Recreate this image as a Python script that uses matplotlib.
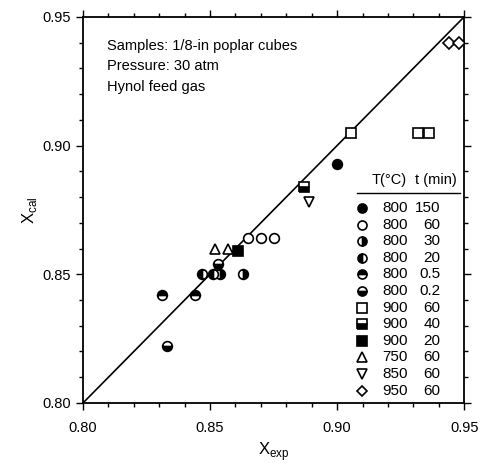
import matplotlib
matplotlib.use("Agg")
import matplotlib.pyplot as plt
from matplotlib.ticker import MultipleLocator, FormatStrFormatter

plt.rcParams['font.family'] = ['Liberation Sans', 'DejaVu Sans']

# series: (T, t, marker, fillstyle)
temps = ['800', '800', '800', '800', '800', '800', '900', '900', '900', '750', '850', '950']
times = ['150', '60', '30', '20', '0.5', '0.2', '60', '40', '20', '60', '60', '60']
markers = ['o', 'o', 'o', 'o', 'o', 'o', 's', 's', 's', '^', 'v', 'D']
fills = ['full', 'none', 'right', 'left', 'top', 'bottom', 'none', 'bottom', 'full', 'none', 'none', 'none']

x_exp = [
    [0.900],
    [0.865, 0.870, 0.875],
    [0.854, 0.863],
    [0.847, 0.851],
    [0.831, 0.844],
    [0.833, 0.853],
    [0.9055, 0.932, 0.936],
    [0.887],
    [0.861],
    [0.852, 0.857],
    [0.889],
    [0.944, 0.948],
]
x_cal = [
    [0.893],
    [0.864, 0.864, 0.864],
    [0.850, 0.850],
    [0.850, 0.850],
    [0.842, 0.842],
    [0.822, 0.854],
    [0.905, 0.905, 0.905],
    [0.884],
    [0.859],
    [0.860, 0.860],
    [0.878],
    [0.940, 0.940],
]

notes = ['Samples: 1/8-in poplar cubes', 'Pressure: 30 atm', 'Hynol feed gas']


def style(m, f):
    ms = 6.0 if m == 'D' else 7.0
    kw = dict(marker=m, ms=ms, mec='black', mew=1.2, ls='none')
    if f == 'none':
        kw.update(mfc='white', fillstyle='full')
    else:
        kw.update(mfc='black', mfcalt='white', fillstyle=f)
    return kw


fig = plt.figure(figsize=(4.8, 4.68), dpi=100)
ax = fig.add_axes([0.173, 0.139, 0.794, 0.825])

ax.plot([0.80, 0.95], [0.80, 0.95], color='black', lw=1.2, zorder=1)

for xs, ys, m, f in zip(x_exp, x_cal, markers, fills):
    ax.plot(xs, ys, zorder=3, **style(m, f))

ax.set_xlim(0.80, 0.95)
ax.set_ylim(0.80, 0.95)
for a in (ax.xaxis, ax.yaxis):
    a.set_major_locator(MultipleLocator(0.05))
    a.set_minor_locator(MultipleLocator(0.01))
    a.set_major_formatter(FormatStrFormatter('%.2f'))
ax.tick_params(which='both', direction='out', top=True, right=True,
               labeltop=False, labelright=False, width=1, labelsize=10.5)
ax.tick_params(which='major', length=5)
ax.tick_params(which='minor', length=3)
ax.tick_params(axis='x', pad=8)
ax.tick_params(axis='y', pad=4)
for s in ax.spines.values():
    s.set_linewidth(1.3)

ax.set_xlabel(r'X$_{\mathregular{exp}}$', fontsize=12, labelpad=4)
ax.set_ylabel(r'X$_{\mathregular{cal}}$', fontsize=12, labelpad=2)

for i, line in enumerate(notes):
    ax.text(0.063, 0.925 - i * 0.053, line, transform=ax.transAxes,
            fontsize=10.5, va='center', ha='left')

# table-style legend
hdr_y = (403 - 180) / 386
ax.text(0.85, hdr_y, 'T(\u00b0C)', transform=ax.transAxes, fontsize=10.5,
        ha='right', va='center')
ax.text(0.872, hdr_y, 't (min)', transform=ax.transAxes, fontsize=10.5,
        ha='left', va='center')
line_y = (403 - 193) / 386
ax.plot([0.72, 0.99], [line_y, line_y], transform=ax.transAxes,
        color='black', lw=1, clip_on=False)
for i, (T, t, m, f) in enumerate(zip(temps, times, markers, fills)):
    ry = (403 - (208 + i * 16.6)) / 386
    kw = style(m, f)
    kw['ms'] = kw['ms'] - 0.5
    ax.plot([0.733], [ry], transform=ax.transAxes, clip_on=False, **kw)
    ax.text(0.852, ry, T, transform=ax.transAxes, fontsize=11,
            ha='right', va='center')
    ax.text(0.937, ry, t, transform=ax.transAxes, fontsize=11,
            ha='right', va='center')

fig.savefig('out.png', dpi=100)
